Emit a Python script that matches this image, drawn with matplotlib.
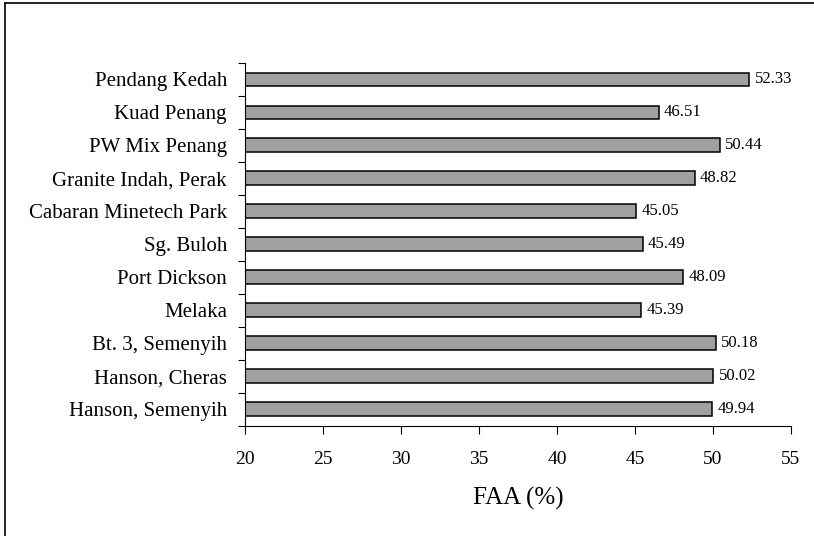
import numpy as np
import matplotlib
matplotlib.use('Agg')
import matplotlib.pyplot as plt
from matplotlib.lines import Line2D

# data, top to bottom as in the chart
sites = ['Pendang Kedah', 'Kuad Penang', 'PW Mix Penang', 'Granite Indah, Perak',
         'Cabaran Minetech Park', 'Sg. Buloh', 'Port Dickson', 'Melaka',
         'Bt. 3, Semenyih', 'Hanson, Cheras', 'Hanson, Semenyih']
faa = [52.33, 46.51, 50.44, 48.82, 45.05, 45.49, 48.09, 45.39, 50.18, 50.02, 49.94]
xticks = [20, 25, 30, 35, 40, 45, 50, 55]

plt.rcParams['font.family'] = ['Liberation Serif', 'DejaVu Serif']

fig = plt.figure(figsize=(8.14, 5.36), dpi=100)
ax = fig.add_axes([0.301, 0.2058, 0.6707, 0.6767])

n = len(sites)
ypos = np.arange(n)[::-1]
ax.barh(ypos, faa, height=0.42, color='#a0a0a0', edgecolor='black', linewidth=1.1)

for y, v in zip(ypos, faa):
    ax.text(v + 0.35, y, '%.2f' % v, va='center', ha='left', fontsize=12)

ax.set_xlim(20, 55)
ax.set_ylim(-0.5, n - 0.5)
ax.set_xticks(xticks)
ax.set_yticks(ypos)
ax.set_yticklabels(sites, fontsize=15)
ax.set_yticks(np.arange(n + 1) - 0.5, minor=True)
ax.tick_params(axis='y', which='major', length=0, pad=13)
ax.tick_params(axis='y', which='minor', length=5, direction='out', width=0.8)
ax.tick_params(axis='x', length=6, direction='out', width=0.8, labelsize=14, pad=12)
ax.set_xlabel('FAA (%)', fontsize=18, labelpad=14)

for s in ['top', 'right']:
    ax.spines[s].set_visible(False)
for s in ['left', 'bottom']:
    ax.spines[s].set_linewidth(0.8)

# chart frame (only top and left edges visible in the crop)
fig.add_artist(Line2D([0.006, 0.006], [0, 0.994], transform=fig.transFigure, color='black', lw=1.2))
fig.add_artist(Line2D([0.006, 1.0], [0.994, 0.994], transform=fig.transFigure, color='black', lw=1.2))

fig.savefig('out.png', dpi=100)
